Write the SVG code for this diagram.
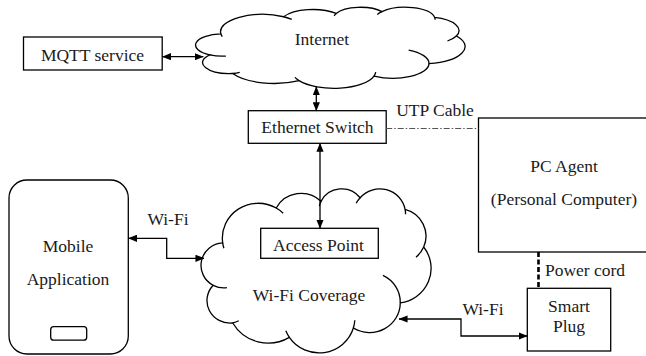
<svg xmlns="http://www.w3.org/2000/svg" width="646" height="356" viewBox="0 0 646 356">
<style>
.box{fill:#fff;stroke:#000;stroke-width:1.3}
.cl{fill:#fff;stroke:#000;stroke-width:1.3}
.curl{fill:none;stroke:#000;stroke-width:1.3}
.ar{fill:none;stroke:#000;stroke-width:1.3;marker-start:url(#ah);marker-end:url(#ah)}
</style>
<defs>
<marker id="ah" viewBox="0 0 10 8" refX="9.5" refY="4" markerWidth="9" markerHeight="7.2" markerUnits="userSpaceOnUse" orient="auto-start-reverse">
<path d="M0,0 L10,4 L0,8 z" fill="#000"/>
</marker>
</defs>

<g id="internet">
<g transform="translate(196.7,7) scale(0.0062106,0.001875)">
<path class="cl" vector-effect="non-scaling-stroke" d="M3900 14370 A6753 9190 0 0 1 14005 5203 A5333 7267 0 0 1 22456 3433 A4365 5945 0 0 1 29834 2483 A4857 6595 0 0 1 38319 5579 A5333 7273 0 0 1 41819 15463 A6775 9220 0 0 1 37403 30203 A5785 7867 0 0 1 28556 36814 A6752 9215 0 0 1 16481 39266 A7720 10543 0 0 1 5806 35473 A4360 5918 0 0 1 2115 25551 A4345 5945 0 0 1 3900 14370 Z"/>
<path class="curl" vector-effect="non-scaling-stroke" d="M4693 26177 A4345 5945 0 0 1 2115 25551 M6928 34899 A4360 5918 0 0 1 5806 35473 M16481 39266 A6752 9215 0 0 1 15812 37525 M28827 34751 A6752 9215 0 0 1 28556 36814 M34129 22954 A5785 7867 0 0 1 37403 30203 M41819 15463 A5333 7273 0 0 1 40371 18139 M38319 5579 A4857 6595 0 0 1 38395 6842 M29078 3952 A4857 6595 0 0 1 29834 2483 M22141 4720 A4365 5945 0 0 1 22456 3433 M14005 5203 A6753 9190 0 0 1 15306 6552 M4127 15789 A6753 9190 0 0 1 3900 14370"/>
</g>
<text x="322" y="45" font-family="Liberation Serif" font-size="17.5" fill="#1a1a1a" text-anchor="middle">Internet</text>
</g>

<g id="wifi-coverage">
<g transform="translate(202,188.3) scale(0.0053009,0.0037963)">
<path class="cl" vector-effect="non-scaling-stroke" d="M3900 14370 A6753 9190 0 0 1 14005 5203 A5333 7267 0 0 1 22456 3433 A4365 5945 0 0 1 29834 2483 A4857 6595 0 0 1 38319 5579 A5333 7273 0 0 1 41819 15463 A6775 9220 0 0 1 37403 30203 A5785 7867 0 0 1 28556 36814 A6752 9215 0 0 1 16481 39266 A7720 10543 0 0 1 5806 35473 A4360 5918 0 0 1 2115 25551 A4345 5945 0 0 1 3900 14370 Z"/>
<path class="curl" vector-effect="non-scaling-stroke" d="M4693 26177 A4345 5945 0 0 1 2115 25551 M6928 34899 A4360 5918 0 0 1 5806 35473 M16481 39266 A6752 9215 0 0 1 15812 37525 M28827 34751 A6752 9215 0 0 1 28556 36814 M34129 22954 A5785 7867 0 0 1 37403 30203 M41819 15463 A5333 7273 0 0 1 40371 18139 M38319 5579 A4857 6595 0 0 1 38395 6842 M29078 3952 A4857 6595 0 0 1 29834 2483 M22141 4720 A4365 5945 0 0 1 22456 3433 M14005 5203 A6753 9190 0 0 1 15306 6552 M4127 15789 A6753 9190 0 0 1 3900 14370"/>
</g>
<text x="309" y="301" font-family="Liberation Serif" font-size="17.5" fill="#1a1a1a" text-anchor="middle">Wi-Fi Coverage</text>
</g>

<g id="mqtt">
<rect class="box" x="23.5" y="37" width="138.7" height="33"/>
<text x="92.5" y="61" font-family="Liberation Serif" font-size="17.5" fill="#1a1a1a" text-anchor="middle">MQTT service</text>
</g>

<g id="switch">
<rect class="box" x="248.3" y="110.7" width="137.9" height="32.6"/>
<text x="317.5" y="133" font-family="Liberation Serif" font-size="17.5" fill="#1a1a1a" text-anchor="middle">Ethernet Switch</text>
</g>

<g id="access-point">
<rect class="box" x="260.7" y="228.3" width="117.6" height="30"/>
<text x="318.5" y="251" font-family="Liberation Serif" font-size="17.5" fill="#1a1a1a" text-anchor="middle">Access Point</text>
</g>

<g id="pc-agent">
<rect class="box" x="478.5" y="118" width="171" height="134"/>
<text x="564" y="172" font-family="Liberation Serif" font-size="17.5" fill="#1a1a1a" text-anchor="middle">PC Agent</text>
<text x="564" y="205" font-family="Liberation Serif" font-size="17.5" fill="#1a1a1a" text-anchor="middle">(Personal Computer)</text>
</g>

<g id="smart-plug">
<rect class="box" x="527.3" y="288.3" width="83.4" height="62.7"/>
<text x="569" y="311.5" font-family="Liberation Serif" font-size="17.5" fill="#1a1a1a" text-anchor="middle">Smart</text>
<text x="569" y="332" font-family="Liberation Serif" font-size="17.5" fill="#1a1a1a" text-anchor="middle">Plug</text>
</g>

<g id="mobile">
<rect class="box" x="9" y="180" width="119.3" height="174" rx="18" ry="18"/>
<rect x="50.7" y="326.7" width="36" height="13.5" rx="3" ry="3" fill="#fff" stroke="#000" stroke-width="1.3"/>
<text x="68" y="251.5" font-family="Liberation Serif" font-size="17.5" fill="#1a1a1a" text-anchor="middle">Mobile</text>
<text x="68" y="285" font-family="Liberation Serif" font-size="17.5" fill="#1a1a1a" text-anchor="middle">Application</text>
</g>

<g id="connectors">
<path class="ar" d="M162.5 56.7 H203.3"/>
<path class="ar" d="M316.3 86.7 V110.7"/>
<path class="ar" d="M320 143.3 V228.3"/>
<path class="ar" d="M128.5 238.3 H166.7 V258.3 H204"/>
<path class="ar" d="M399 319 H461 V336 H527.3"/>
<path d="M386.2 128.5 H478.5" fill="none" stroke="#555" stroke-width="1" stroke-dasharray="6 2 1.5 2"/>
<path d="M538.5 252 V288.3" fill="none" stroke="#000" stroke-width="2.6" stroke-dasharray="5 2.5"/>
<text x="435" y="116" font-family="Liberation Serif" font-size="17.5" fill="#1a1a1a" text-anchor="middle">UTP Cable</text>
<text x="168" y="225" font-family="Liberation Serif" font-size="17.5" fill="#1a1a1a" text-anchor="middle">Wi-Fi</text>
<text x="483" y="315" font-family="Liberation Serif" font-size="17.5" fill="#1a1a1a" text-anchor="middle">Wi-Fi</text>
<text x="585" y="276" font-family="Liberation Serif" font-size="17.5" fill="#1a1a1a" text-anchor="middle">Power cord</text>
</g>
</svg>
